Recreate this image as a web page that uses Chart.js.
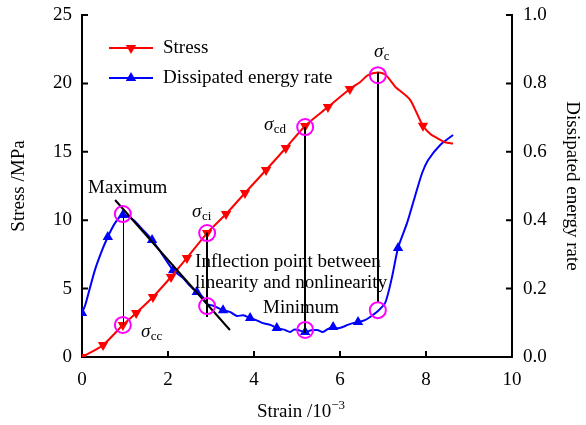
<!DOCTYPE html>
<html>
<head>
<meta charset="utf-8">
<script src="https://cdn.jsdelivr.net/npm/chart.js@4/dist/chart.umd.min.js"></script>
<style>
  html, body { margin: 0; padding: 0; background: #fff; }
  #wrap { width: 586px; height: 425px; }
</style>
</head>
<body>
<div id="wrap"><canvas id="c" width="586" height="425"></canvas></div>
<script>
// Stress–strain curve (strain in 10^-3, stress in MPa)
const stressStrain = [0, 0.49, 0.95, 1.26, 1.65, 2.07, 2.44, 2.91, 3.35, 3.79, 4.28, 4.74, 5.19, 5.72, 6.23,
  6.47, 6.65, 6.88, 7.05, 7.20, 7.30, 7.44, 7.63, 7.79, 7.93, 8.10, 8.26, 8.44, 8.63];
const stressValues = [0, 0.88, 2.34, 3.22, 4.39, 5.85, 7.24, 9.06, 10.45, 11.99, 13.67, 15.28, 16.89, 18.27, 19.59,
  20.1, 20.6, 20.8, 20.65, 20.1, 19.7, 19.35, 18.8, 17.8, 16.9, 16.3, 16.0, 15.7, 15.6];
const stressMarked = [0, 1, 2, 3, 4, 5, 6, 7, 8, 9, 10, 11, 12, 13, 14, 24];

// Dissipated energy rate curve
const rateStrain = [0, 0.07, 0.14, 0.30, 0.47, 0.60, 0.77, 0.95, 1.19, 1.42, 1.63, 1.86, 2.12, 2.35, 2.51, 2.67, 2.81,
  2.91, 3.05, 3.28, 3.45, 3.60, 3.75, 3.91, 4.05, 4.21, 4.38, 4.53, 4.70, 4.84, 4.93, 5.02, 5.19, 5.33, 5.47, 5.60,
  5.72, 5.84, 5.95, 6.07, 6.18, 6.30, 6.42, 6.58, 6.70, 6.86, 7.05, 7.21, 7.35, 7.56, 7.74, 7.91, 8.05, 8.33, 8.63];
const rateValues = [0.129, 0.150, 0.181, 0.254, 0.313, 0.351, 0.392, 0.415, 0.401, 0.371, 0.342, 0.301, 0.254, 0.231,
  0.208, 0.190, 0.175, 0.155, 0.150, 0.137, 0.131, 0.120, 0.122, 0.114, 0.108, 0.099, 0.094, 0.085, 0.080, 0.073,
  0.080, 0.079, 0.073, 0.078, 0.079, 0.073, 0.082, 0.088, 0.084, 0.088, 0.094, 0.099, 0.102, 0.108, 0.117, 0.132,
  0.158, 0.234, 0.319, 0.392, 0.468, 0.538, 0.576, 0.620, 0.649];
const rateMarked = [0, 5, 7, 10, 12, 15, 19, 23, 27, 32, 37, 42, 48];

// Axis ticks
const strainTicks = [0, 2, 4, 6, 8, 10];
const stressTicks = [0, 5, 10, 15, 20, 25];
const rateTicks = [0, 0.2, 0.4, 0.6, 0.8, 1.0];

// Characteristic points: crack closure, initiation, damage, peak strength
const keyNames = ['cc', 'ci', 'cd', 'c'];
const keyStrain = [0.95, 2.91, 5.19, 6.88];
const keyStress = [2.34, 9.06, 16.81, 20.6];
const keyRate = [0.418, 0.149, 0.079, 0.137];

// Vertical guide lines: from a stress level to a rate level at each key strain
const guideStress = [2.34, 9.1, 16.8, 20.8];
const guideRate = [0.418, 0.117, 0.07, 0.161];
const guideWidth = [1, 2, 2, 2];

// Tangent through the falling branch after the maximum (strain, rate)
const tangentStrain = [0.77, 3.44];
const tangentRate = [0.459, 0.079];

const RED = '#ff0000', BLUE = '#0000ff', PINK = '#ff00ff';
const SERIF = "'Liberation Serif', 'Times New Roman', serif";
const FS = 19;

const toXY = (xs, ys) => xs.map((x, i) => ({ x, y: ys[i] }));

const notes = {
  id: 'notes',
  beforeDatasetsDraw(chart) {
    // inward tick marks on the three axes
    const { ctx, scales: { x, y, y1 } } = chart;
    ctx.save();
    ctx.strokeStyle = '#000';
    ctx.lineWidth = 2;
    ctx.beginPath();
    strainTicks.forEach(v => { const px = x.getPixelForValue(v); ctx.moveTo(px, x.top); ctx.lineTo(px, x.top - 6); });
    stressTicks.forEach(v => { const py = y.getPixelForValue(v); ctx.moveTo(y.right, py); ctx.lineTo(y.right + 6, py); });
    rateTicks.forEach(v => { const py = y1.getPixelForValue(v); ctx.moveTo(y1.left, py); ctx.lineTo(y1.left - 6, py); });
    ctx.stroke();
    ctx.restore();
  },
  afterDatasetsDraw(chart) {
    const { ctx, chartArea, scales: { x, y, y1 } } = chart;
    const X = v => x.getPixelForValue(v);
    const YS = v => y.getPixelForValue(v);
    const YR = v => y1.getPixelForValue(v);
    ctx.save();

    // tangent line
    ctx.strokeStyle = '#000';
    ctx.lineWidth = 2;
    ctx.beginPath();
    ctx.moveTo(X(tangentStrain[0]), YR(tangentRate[0]));
    ctx.lineTo(X(tangentStrain[1]), YR(tangentRate[1]));
    ctx.stroke();

    // vertical guides
    keyStrain.forEach((s, i) => {
      ctx.lineWidth = guideWidth[i];
      const px = Math.round(X(s)) + (guideWidth[i] === 1 ? 0.5 : 0);
      ctx.beginPath();
      ctx.moveTo(px, YS(guideStress[i]));
      ctx.lineTo(px, YR(guideRate[i]));
      ctx.stroke();
    });

    // circles around characteristic points on both curves
    ctx.strokeStyle = PINK;
    ctx.lineWidth = 2;
    keyStrain.forEach((s, i) => {
      ctx.beginPath(); ctx.arc(X(s), YS(keyStress[i]), 8, 0, Math.PI * 2); ctx.stroke();
      ctx.beginPath(); ctx.arc(X(s), YR(keyRate[i]), 8, 0, Math.PI * 2); ctx.stroke();
    });

    // text notes
    ctx.fillStyle = '#000';
    ctx.textBaseline = 'alphabetic';
    ctx.textAlign = 'left';
    ctx.font = `${FS}px ${SERIF}`;
    ctx.fillText('Maximum', X(0.14), YS(11.99));
    ctx.fillText('Inflection point between', X(2.63), YS(6.58));
    ctx.fillText('linearity and nonlinearity', X(2.63), YS(5.04));
    ctx.fillText('Minimum', X(4.21), YS(3.22));

    // sigma labels with subscripts
    const sigmaAt = [[1.37, 1.46], [2.56, 10.23], [4.23, 16.59], [6.79, 21.93]];
    keyNames.forEach((name, i) => {
      const px = X(sigmaAt[i][0]), py = YS(sigmaAt[i][1]);
      ctx.font = `italic ${FS}px ${SERIF}`;
      ctx.fillText('\u03C3', px, py);
      const w = ctx.measureText('\u03C3').width;
      ctx.font = `13px ${SERIF}`;
      ctx.fillText(name, px + w + 0.5, py + 3);
    });

    // legend
    const legend = [
      { label: 'Stress', color: RED, down: true, yy: 48 },
      { label: 'Dissipated energy rate', color: BLUE, down: false, yy: 78 }
    ];
    const lx0 = chartArea.left + 27, lx1 = chartArea.left + 71;
    legend.forEach(it => {
      ctx.strokeStyle = it.color;
      ctx.fillStyle = it.color;
      ctx.lineWidth = 2;
      ctx.beginPath(); ctx.moveTo(lx0, it.yy); ctx.lineTo(lx1, it.yy); ctx.stroke();
      const cx = (lx0 + lx1) / 2, r = 6;
      ctx.beginPath();
      if (it.down) {
        ctx.moveTo(cx, it.yy + r); ctx.lineTo(cx - r * 0.866, it.yy - r / 2); ctx.lineTo(cx + r * 0.866, it.yy - r / 2);
      } else {
        ctx.moveTo(cx, it.yy - r); ctx.lineTo(cx - r * 0.866, it.yy + r / 2); ctx.lineTo(cx + r * 0.866, it.yy + r / 2);
      }
      ctx.closePath(); ctx.fill();
      ctx.fillStyle = '#000';
      ctx.font = `${FS}px ${SERIF}`;
      ctx.textBaseline = 'middle';
      ctx.fillText(it.label, chartArea.left + 81, it.yy);
    });

    // x axis title with superscript
    ctx.textBaseline = 'alphabetic';
    const main = 'Strain /10';
    ctx.font = `${FS}px ${SERIF}`;
    const mw = ctx.measureText(main).width;
    ctx.font = `13px ${SERIF}`;
    const sup = '\u22123';
    const sw = ctx.measureText(sup).width;
    const tx = (chartArea.left + chartArea.right) / 2 - (mw + sw) / 2 + 4;
    const ty = 417;
    ctx.font = `${FS}px ${SERIF}`;
    ctx.fillText(main, tx, ty);
    ctx.font = `13px ${SERIF}`;
    ctx.fillText(sup, tx + mw, ty - 8);

    ctx.restore();
  }
};

const tickFont = { family: SERIF, size: FS };
const border = { display: true, color: '#000', width: 2 };

// fixed axis box sizes so the plot area spans x 82–512, y 15–357
const fitV = w => s => { s.width = w; s.paddingTop = 0; s.paddingBottom = 0; };
const fitH = h => s => { s.height = h; s.paddingLeft = 0; s.paddingRight = 0; };

new Chart(document.getElementById('c'), {
  type: 'line',
  data: {
    datasets: [
      {
        label: 'Stress',
        data: toXY(stressStrain, stressValues),
        yAxisID: 'y',
        borderColor: RED,
        backgroundColor: RED,
        borderWidth: 2,
        tension: 0.3,
        pointStyle: 'triangle',
        rotation: 180,
        pointRadius: c => stressMarked.includes(c.dataIndex) ? 6 : 0,
        pointBorderWidth: 0,
        order: 1
      },
      {
        label: 'Dissipated energy rate',
        data: toXY(rateStrain, rateValues),
        yAxisID: 'y1',
        borderColor: BLUE,
        backgroundColor: BLUE,
        borderWidth: 2,
        tension: 0.25,
        pointStyle: 'triangle',
        pointRadius: c => rateMarked.includes(c.dataIndex) ? 6 : 0,
        pointBorderWidth: 0,
        order: 2
      }
    ]
  },
  options: {
    responsive: false,
    animation: false,
    events: [],
    devicePixelRatio: 1,
    layout: { padding: { top: 15, left: 0, right: 0, bottom: 0 } },
    plugins: { legend: { display: false }, tooltip: { enabled: false } },
    scales: {
      x: {
        type: 'linear',
        min: 0, max: 10,
        afterBuildTicks: s => { s.ticks = strainTicks.map(v => ({ value: v })); },
        grid: { display: false, drawTicks: false },
        border,
        ticks: { font: tickFont, color: '#000', padding: 12, maxRotation: 0 },
        afterFit: fitH(68)
      },
      y: {
        position: 'left',
        min: 0, max: 25,
        afterBuildTicks: s => { s.ticks = stressTicks.map(v => ({ value: v })); },
        grid: { display: false, drawTicks: false },
        border,
        ticks: { font: tickFont, color: '#000', padding: 10 },
        title: { display: true, text: 'Stress /MPa', font: tickFont, color: '#000', padding: { top: 8, bottom: 0 } },
        afterFit: fitV(82)
      },
      y1: {
        position: 'right',
        min: 0, max: 1,
        afterBuildTicks: s => { s.ticks = rateTicks.map(v => ({ value: v })); },
        grid: { display: false, drawTicks: false },
        border,
        ticks: { font: tickFont, color: '#000', padding: 11, callback: v => Number(v).toFixed(1) },
        title: { display: true, text: 'Dissipated energy rate', font: tickFont, color: '#000', padding: { top: 3, bottom: 0 } },
        afterFit: fitV(74)
      }
    }
  },
  plugins: [notes]
});
</script>
</body>
</html>
